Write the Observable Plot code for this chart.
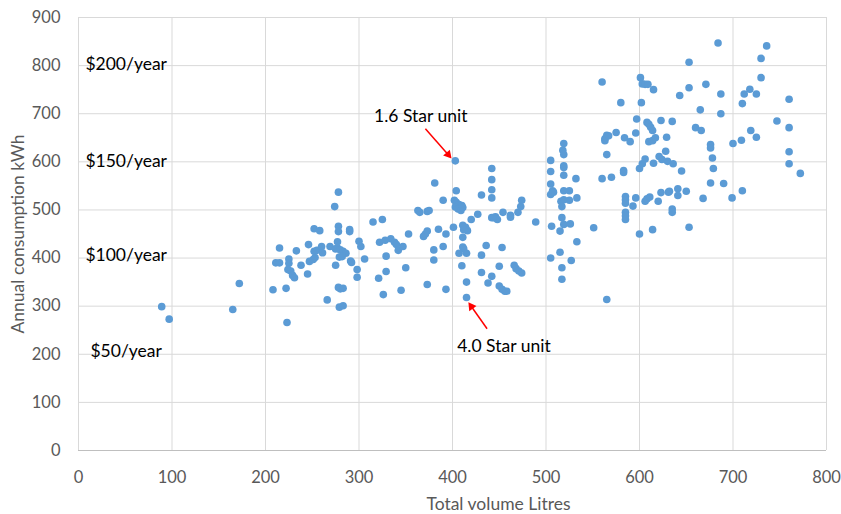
<!DOCTYPE html>
<html>
<head>
<meta charset="utf-8">
<script src="https://cdn.jsdelivr.net/npm/d3@7"></script>
<script src="https://cdn.jsdelivr.net/npm/@observablehq/plot@0.6"></script>
<style>
  html, body { margin: 0; padding: 0; background: #ffffff; }
  #chart { width: 841px; height: 514px; }
</style>
</head>
<body>
<div id="chart"></div>
<script>
// Total volume (litres) and annual consumption (kWh) for each unit
const volume = [
  89, 97, 165, 172, 208, 222, 223, 215, 233, 246, 211, 215, 225, 225, 238, 247, 224, 227, 229, 231, 245,
  278, 274, 252, 258, 278, 278, 290, 290, 252, 255, 260, 261, 269, 275, 277, 277, 280, 283, 286, 279, 282,
  300, 302, 291, 292, 306, 251, 253, 275, 298, 298, 322, 328, 334, 338, 340, 342, 347, 329, 353, 369, 371,
  373, 385, 393, 380, 390, 380, 350, 321, 329, 373, 393, 278, 280, 283, 266, 279, 283, 326, 345, 381, 390,
  363, 365, 373, 375, 315, 325,
  403, 442, 442, 442, 442, 431, 404, 402, 404, 407, 410, 403, 406, 409, 411, 427, 420, 411, 414, 416, 412,
  401, 411, 411, 412, 407, 415, 436, 431, 453, 410, 415, 415, 431, 442, 438, 450, 450, 453, 456, 458, 466,
  468, 471, 474, 442, 446, 448, 444, 454, 462, 462, 470, 473, 474, 489,
  505, 505, 505, 507, 505, 508, 519, 518, 519, 519, 519, 519, 532, 519, 525, 516, 519, 525, 533, 517, 517,
  519, 526, 506, 515, 551, 533, 505, 515, 527, 517, 517, 565, 560, 563, 565, 563, 565, 570,
  560, 601, 603, 606, 609, 615, 643, 580, 602, 597, 608, 610, 612, 614, 623, 635, 567, 575, 584, 590, 596,
  610, 614, 617, 629, 583, 583, 600, 603, 606, 615, 621, 624, 628, 630, 636, 645,
  585, 585, 585, 585, 585, 585, 593, 596, 606, 608, 611, 620, 623, 631, 632, 641, 641, 635, 635, 600, 614,
  684, 736, 730, 653, 730, 671, 653, 687, 718, 712, 725, 710, 760, 665, 687, 747, 760, 660, 666, 719, 709,
  725, 700, 676, 676, 678, 760, 679, 760, 772,
  650, 676, 690, 668, 699, 710, 653
];
const consumption = [
  299, 273, 293, 347, 334, 337, 266, 421, 415, 428, 390, 390, 398, 389, 385, 393, 376, 373, 364, 359, 367,
  537, 507, 461, 457, 466, 455, 459, 455, 414, 416, 424, 411, 424, 419, 421, 434, 417, 414, 410, 402, 403,
  435, 424, 394, 391, 398, 397, 401, 385, 376, 360, 433, 437, 440, 433, 428, 416, 424, 404, 450, 445, 450,
  456, 460, 450, 417, 424, 396, 380, 358, 372, 345, 335, 339, 336, 337, 313, 298, 301, 324, 333, 556, 520,
  499, 495, 497, 499, 475, 480,
  602, 586, 563, 542, 525, 531, 540, 520, 516, 511, 509, 506, 502, 499, 505, 491, 480, 468, 464, 457, 459,
  464, 443, 423, 419, 410, 410, 426, 406, 422, 384, 350, 318, 370, 362, 348, 383, 342, 335, 331, 331, 385,
  378, 373, 369, 484, 486, 480, 484, 495, 489, 485, 495, 507, 520, 475,
  603, 580, 554, 540, 532, 537, 638, 624, 615, 592, 588, 572, 565, 540, 540, 518, 521, 520, 525, 507, 484,
  470, 471, 466, 456, 463, 434, 400, 412, 395, 380, 356, 314, 565, 648, 655, 644, 615, 568,
  766, 775, 762, 761, 761, 750, 738, 723, 723, 689, 682, 678, 672, 665, 686, 684, 654, 661, 650, 642, 660,
  642, 644, 650, 651, 582, 578, 586, 596, 606, 597, 611, 605, 622, 601, 596, 581,
  528, 521, 514, 495, 488, 480, 508, 525, 518, 523, 527, 518, 536, 537, 539, 544, 530, 502, 495, 450, 459,
  847, 841, 815, 807, 775, 761, 754, 741, 751, 741, 741, 721, 730, 708, 700, 685, 671, 671, 665, 665, 645,
  651, 638, 636, 629, 608, 621, 586, 596, 576,
  539, 556, 555, 524, 525, 540, 464
];

const xTicks = [0, 100, 200, 300, 400, 500, 600, 700, 800];
const yTicks = [0, 100, 200, 300, 400, 500, 600, 700, 800, 900];

// Running-cost reference labels
const costLabels = ["$200/year", "$150/year", "$100/year", "$50/year"];
const costKwh = [802, 600, 405, 205];
const costLabelVolume = [51, 51, 51, 51];

// Callouts
const calloutText = ["1.6 Star unit", "4.0 Star unit"];
const calloutTextX = [366, 455];
const calloutTextY = [694, 217];
const arrowFromX = [371, 437];
const arrowFromY = [669, 253];
const arrowToX = [399, 417];
const arrowToY = [607, 308];

const W = 841, H = 514;
const M = {left: 78, right: 15, top: 17, bottom: 64};

const points = volume.map((v, i) => ({volume: v, kwh: consumption[i]}));
const costs = costLabels.map((t, i) => ({t, x: costLabelVolume[i], y: costKwh[i]}));

// standalone scales matching the plot, used only to orient the filled arrow heads
const sx = Plot.scale({x: {domain: [0, 800], range: [M.left, W - M.right]}});
const sy = Plot.scale({y: {domain: [0, 900], range: [H - M.bottom, M.top]}});
const headR = 3.3;
const tipOffset = 2 * Math.sqrt(Math.PI * headR * headR / (3 * Math.sqrt(3)));
const callouts = calloutText.map((t, i) => {
  const px1 = sx.apply(arrowFromX[i]), py1 = sy.apply(arrowFromY[i]);
  const px2 = sx.apply(arrowToX[i]), py2 = sy.apply(arrowToY[i]);
  const len = Math.hypot(px2 - px1, py2 - py1);
  const ux = (px2 - px1) / len, uy = (py2 - py1) / len;
  const cx = px2 - ux * tipOffset, cy = py2 - uy * tipOffset;
  const bx = px2 - ux * tipOffset * 1.3, by = py2 - uy * tipOffset * 1.3;
  return {
    t, tx: calloutTextX[i], ty: calloutTextY[i],
    x1: arrowFromX[i], y1: arrowFromY[i],
    xb: sx.invert(bx), yb: sy.invert(by),
    hx: sx.invert(cx), hy: sy.invert(cy),
    angle: Math.atan2(ux, -uy) * 180 / Math.PI
  };
});

const grid = "#d9d9d9";
const font = "Lato, 'Open Sans', sans-serif";

const chart = Plot.plot({
  width: W,
  height: H,
  marginLeft: M.left,
  marginRight: M.right,
  marginTop: M.top,
  marginBottom: M.bottom,
  style: {fontFamily: font, fontSize: "16px", color: "#595959", background: "#ffffff", overflow: "visible"},
  x: {domain: [0, 800]},
  y: {domain: [0, 900]},
  marks: [
    Plot.gridX(xTicks, {stroke: grid, strokeOpacity: 1, strokeWidth: 1}),
    Plot.gridY(yTicks.filter(d => d !== 0), {stroke: grid, strokeOpacity: 1, strokeWidth: 1}),
    Plot.ruleY([0], {stroke: "#bfbfbf", strokeWidth: 1}),
    Plot.axisX(xTicks, {tickSize: 0, tickPadding: 21, label: null, fill: "#595959", fontSize: 16.5}),
    Plot.axisY(yTicks, {tickSize: 0, tickPadding: 18, label: null, fill: "#595959", fontSize: 16.5}),
    Plot.dot(points, {x: "volume", y: "kwh", r: 3.8, fill: "#5b9bd5", stroke: "none"}),
    Plot.text(costs, {x: "x", y: "y", text: "t", fill: "#000000", fontSize: 17.5, textAnchor: "middle"}),
    Plot.link(callouts, {x1: "x1", y1: "y1", x2: "xb", y2: "yb", stroke: "#ff0000", strokeWidth: 1.5}),
    Plot.dot(callouts, {x: "hx", y: "hy", symbol: "triangle", r: headR, rotate: "angle", fill: "#ff0000", stroke: "none"}),
    Plot.text(callouts, {x: "tx", y: "ty", text: "t", fill: "#000000", fontSize: 17.5, textAnchor: "middle"}),
    Plot.text(["Annual consumption kWh"], {frameAnchor: "left", rotate: -90, dx: -60, fill: "#595959", fontSize: 17.5, textAnchor: "middle"}),
    Plot.text(["Total volume Litres"], {frameAnchor: "bottom", dx: 46, dy: 59, fill: "#595959", fontSize: 17.5, textAnchor: "middle"})
  ]
});
document.getElementById("chart").appendChild(chart);
</script>
</body>
</html>
